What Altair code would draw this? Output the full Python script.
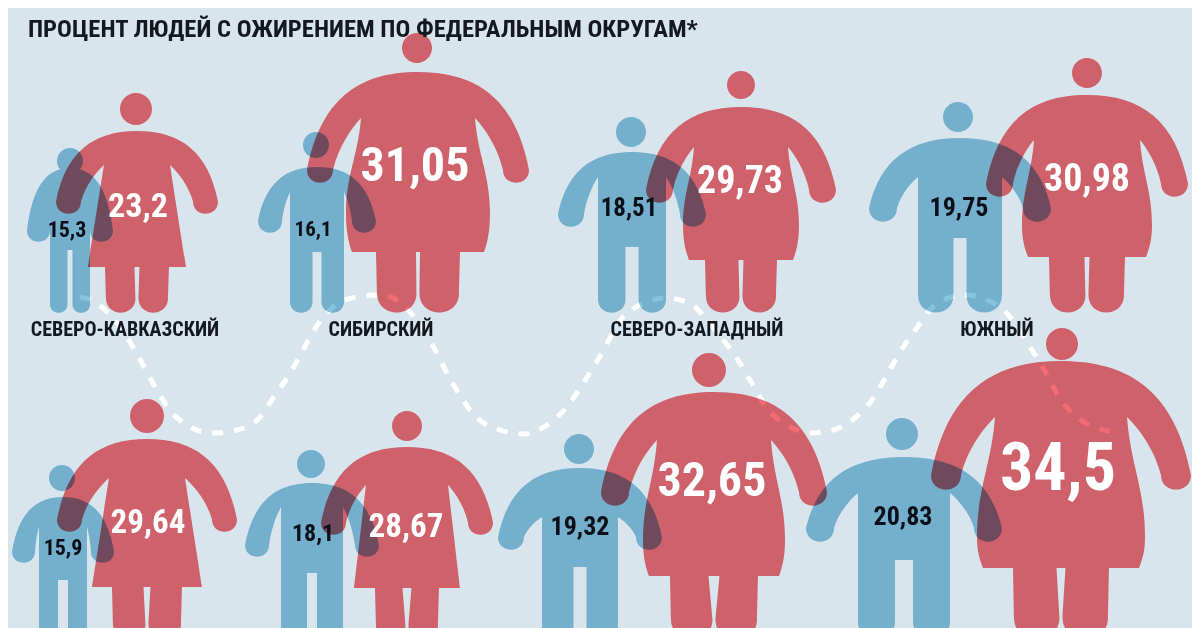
import altair as alt
import pandas as pd

TITLE = "ПРОЦЕНТ ЛЮДЕЙ С ОЖИРЕНИЕМ ПО ФЕДЕРАЛЬНЫМ ОКРУГАМ*"
REGION_LABELS = ["СЕВЕРО-КАВКАЗСКИЙ", "СИБИРСКИЙ", "СЕВЕРО-ЗАПАДНЫЙ", "ЮЖНЫЙ"]
MALE_VALUES = [15.3, 16.1, 18.51, 19.75, 15.9, 18.1, 19.32, 20.83]
FEMALE_VALUES = [23.2, 31.05, 29.73, 30.98, 29.64, 28.67, 32.65, 34.5]

# ---- layout (image pixels) ----
BG = "#d9e5ec"
RED = "#f46c73"    # multiplied over BG gives the reference red
BLUE = "#88c3de"   # multiplied over BG gives the reference blue
FONT = "Roboto Condensed"
LABEL_X = [125, 381, 697, 997]
ROW_FEET = [313, 313, 313, 313, 640, 640, 640, 640]

# cx, head_dx, head_top, r, T, O, hand, A, B, armpitY, gapW, gapTop
MEN = [
    (70, 0, 148, 13, 168, 43, 242, 23, 20, 200, 5, 250),
    (317, -1, 132, 13, 167, 59, 233, 24, 27, 192, 9, 252),
    (632, -1, 117, 15, 152, 74, 227, 26, 34, 177, 13, 247),
    (960, -2, 102, 15, 138, 91, 222, 28, 42, 177, 13, 238),
    (63, -1, 465, 13, 497, 51, 563, 23, 24, 527, 10, 580),
    (312, -1, 450, 14, 483, 67, 557, 24, 31, 507, 10, 573),
    (580, -1, 434, 15, 468, 82, 550, 26, 38, 517, 13, 567),
    (904, -2, 418, 16, 457, 98, 542, 28, 46, 493, 18, 560),
]
# cx, head_dx, head_top, r, T, O, hand, A, P, armpitY, Hm, hemY, L, g, belly_y
WOMEN = [
    (137, -1, 93, 16, 131, 81, 214, 25, 33, 165, 49, 267, 32, 5, None),
    (418, -1, 33, 15, 72, 111, 183, 26, 57, 118, 72, 252, 42, 4, 213),
    (741, 0, 71, 14, 107, 95, 203, 27, 47, 147, 58, 260, 36, 5, 225),
    (1087, 0, 58, 15, 95, 101, 197, 27, 53, 140, 65, 257, 38, 5, 225),
    (147, 0, 399, 17, 439, 90, 532, 25, 38, 478, 55, 587, 35, 7, None),
    (407, 0, 411, 15, 447, 86, 535, 25, 41, 485, 53, 588, 32, 9, None),
    (714, -5, 353, 17, 392, 113, 506, 28, 57, 440, 71, 576, 44, 11, 540),
    (1061, 1, 328, 16, 361, 130, 490, 30, 66, 417, 84, 568, 48, 9, 537),
]
# text position and size of each number: x, y, font size
MALE_TEXT = [(67, 230, 22), (313, 230, 21), (629, 208, 25), (959, 208, 26),
             (63, 548, 22), (313, 534, 24), (580, 527, 26), (903, 517, 26)]
FEMALE_TEXT = [(138, 207, 34), (415, 167, 48), (740, 182, 38), (1087, 180, 38),
               (148, 523, 33), (406, 527, 33), (712, 482, 48), (1058, 470, 66)]

DASH_X = [80, 91, 130, 142, 154, 168, 187, 212, 237, 260, 275, 289, 302, 314, 330, 352, 382, 410,
          434, 448, 461, 476, 497, 524, 547, 566, 582, 599, 625, 666, 689, 715, 738, 753, 766, 787,
          810, 833, 856, 874, 887, 900, 914, 935, 965, 1001, 1030, 1046, 1059, 1078, 1113]
DASH_Y = [297, 300, 342, 363, 385, 408, 425, 433, 430, 417, 395, 375, 352, 330, 310, 298, 295, 312,
          348, 375, 397, 417, 429, 434, 425, 408, 385, 358, 315, 298, 303, 330, 360, 385, 407, 425,
          433, 430, 417, 397, 375, 352, 332, 305, 295, 308, 347, 373, 397, 418, 432]


# ---- silhouette paths ----
def line(p, q):
    return (p, p, q, q)


def head(dx, top, r):
    k = 0.5523 * r
    cy = top + r
    return [
        (dx, cy - r),
        ((dx + k, cy - r), (dx + r, cy - k), (dx + r, cy)),
        ((dx + r, cy + k), (dx + k, cy + r), (dx, cy + r)),
        ((dx - k, cy + r), (dx - r, cy + k), (dx - r, cy)),
        ((dx - r, cy - k), (dx - k, cy - r), (dx, cy - r)),
    ]


def arm(T, O, hand, A, P, py):
    end = (O, hand - 0.5 * A)
    inner = (O - A, hand - 0.5 * A)
    span = O - A - P
    drop = inner[1] - py
    return [
        ((0, T), (O * 0.55, T), (O * 0.88, T + 0.26 * (hand - T)), end),
        (end, (O, hand + 0.15 * A), (O - A, hand + 0.15 * A), inner),
        (inner, (P + 0.8 * span, py + 0.55 * drop), (P + 0.35 * span, py + 0.2 * drop), (P, py)),
    ]


def foot(outer, bottom, inner):
    R = (outer - inner) / 2
    return ((outer, bottom - R), (outer, bottom + 0.3 * R), (inner, bottom + 0.3 * R), (inner, bottom - R))


def to_path(head_pts, right, feet, H):
    def fmt(p):
        return f"{p[0] / (H / 2):.4f} {(p[1] - feet) / (H / 2):.4f}"
    parts = ["M" + fmt(head_pts[0])]
    for c1, c2, e in head_pts[1:]:
        parts.append(f"C{fmt(c1)} {fmt(c2)} {fmt(e)}")
    parts.append("Z")
    parts.append("M" + fmt(right[0][0]))
    for _, c1, c2, e in right:
        parts.append(f"C{fmt(c1)} {fmt(c2)} {fmt(e)}")
    for p0, c1, c2, e in reversed(right):
        m = lambda q: (-q[0], q[1])
        parts.append(f"C{fmt(m(c2))} {fmt(m(c1))} {fmt(m(p0))}")
    parts.append("Z")
    return "".join(parts)


def man_path(m, feet):
    cx, dx, top, r, T, O, hand, A, B, py, G, gt = m
    H = feet - top
    segs = arm(T, O, hand, A, B, py)
    f = foot(B, feet, G / 2)
    segs.append(line((B, py), f[0]))
    segs.append(f)
    segs.append(line(f[3], (G / 2, gt)))
    segs.append(line((G / 2, gt), (0, gt)))
    return to_path(head(dx, top, r), segs, feet, H), H


def woman_path(w, feet):
    cx, dx, top, r, T, O, hand, A, P, py, Hm, hy, L, g, by = w
    H = feet - top
    segs = arm(T, O, hand, A, P, py)
    if by is None:
        segs.append(line((P, py), (Hm, hy)))
    else:
        segs.append(((P, py), (P + 0.2 * (Hm - P), py + 0.4 * (by - py)), (Hm, by - 0.4 * (by - py)), (Hm, by)))
        segs.append(((Hm, by), (Hm, by + 0.5 * (hy - by)), (Hm - 3, hy - 8), (Hm - 6, hy)))
    hem_end = (Hm if by is None else Hm - 6, hy)
    segs.append(line(hem_end, (L, hy)))
    f = foot(L - 1, feet, 1.5)
    segs.append(line((L, hy), f[0]))
    segs.append(f)
    segs.append(line(f[3], (g / 2, hy)))
    segs.append(line((g / 2, hy), (0, hy)))
    return to_path(head(dx, top, r), segs, feet, H), H


rows, text_rows = [], []
for i in range(8):
    p, H = man_path(MEN[i], ROW_FEET[i])
    rows.append(dict(id=f"m{i}", sex="m", value=MALE_VALUES[i], cx=MEN[i][0], feet=ROW_FEET[i], path=p, H=H))
    p, H = woman_path(WOMEN[i], ROW_FEET[i])
    rows.append(dict(id=f"f{i}", sex="f", value=FEMALE_VALUES[i], cx=WOMEN[i][0], feet=ROW_FEET[i], path=p, H=H))
    for sex, v, t in (("m", MALE_VALUES[i], MALE_TEXT[i]), ("f", FEMALE_VALUES[i], FEMALE_TEXT[i])):
        text_rows.append(dict(sex=sex, value=v, label=str(v).replace(".", ","), x=t[0], y=t[1], fs=t[2]))

figs = pd.DataFrame(rows)
texts = pd.DataFrame(text_rows)
by_val = figs.sort_values("value")
by_txt = texts.sort_values("value")

X = alt.Scale(domain=[8, 1192])
Y = alt.Scale(domain=[628, 8])


def xq(f):
    return alt.X(f"{f}:Q", scale=X, axis=None)


def yq(f):
    return alt.Y(f"{f}:Q", scale=Y, axis=None)


backdrop = alt.Chart(pd.DataFrame({"a": [0]})).mark_rect(color=BG).encode(
    x=alt.value(0), x2=alt.value(1184), y=alt.value(0), y2=alt.value(620)
)

dash = alt.Chart(pd.DataFrame({"x": DASH_X, "y": DASH_Y})).mark_line(
    color="white", strokeWidth=5, strokeDash=[11, 11], interpolate="monotone"
).encode(x=xq("x"), y=yq("y"))

figures = alt.Chart(figs).mark_point(
    filled=True, opacity=1, blend="multiply"
).encode(
    x=xq("cx"),
    y=yq("feet"),
    shape=alt.Shape("id:N", scale=alt.Scale(domain=list(figs["id"]), range=list(figs["path"])), legend=None),
    size=alt.Size("value:Q", scale=alt.Scale(domain=list(by_val["value"]), range=[float(h) ** 2 for h in by_val["H"]]), legend=None),
    color=alt.Color("sex:N", scale=alt.Scale(domain=["m", "f"], range=[BLUE, RED]), legend=None),
)

numbers = alt.Chart(texts).mark_text(
    font=FONT, fontWeight="bold", baseline="middle", align="center"
).encode(
    x=xq("x"),
    y=yq("y"),
    text="label:N",
    size=alt.Size("value:Q", scale=alt.Scale(domain=list(by_txt["value"]), range=[float(s) for s in by_txt["fs"]]), legend=None),
    color=alt.Color("sex:N", scale=alt.Scale(domain=["m", "f"], range=["#0b0f18", "#ffffff"]), legend=None),
)

labels = alt.Chart(pd.DataFrame({"t": REGION_LABELS, "x": LABEL_X, "y": [330] * 4})).mark_text(
    font=FONT, fontWeight="bold", fontSize=20, color="#14181f", baseline="middle"
).encode(x=xq("x"), y=yq("y"), text="t:N")

title = alt.Chart(pd.DataFrame({"t": [TITLE], "x": [28], "y": [30]})).mark_text(
    font=FONT, fontWeight="bold", fontSize=24.6, color="#14181f", baseline="middle", align="left"
).encode(x=xq("x"), y=yq("y"), text="t:N")

chart = alt.layer(backdrop, dash, figures, numbers, labels, title).resolve_scale(
    size="independent", color="independent", shape="independent"
).properties(
    width=1184, height=620, background=BG, padding=0,
    autosize=alt.AutoSizeParams(type="none"),
).configure_view(stroke=None)

chart.save("out.html", embed_options={"renderer": "svg", "actions": False})
